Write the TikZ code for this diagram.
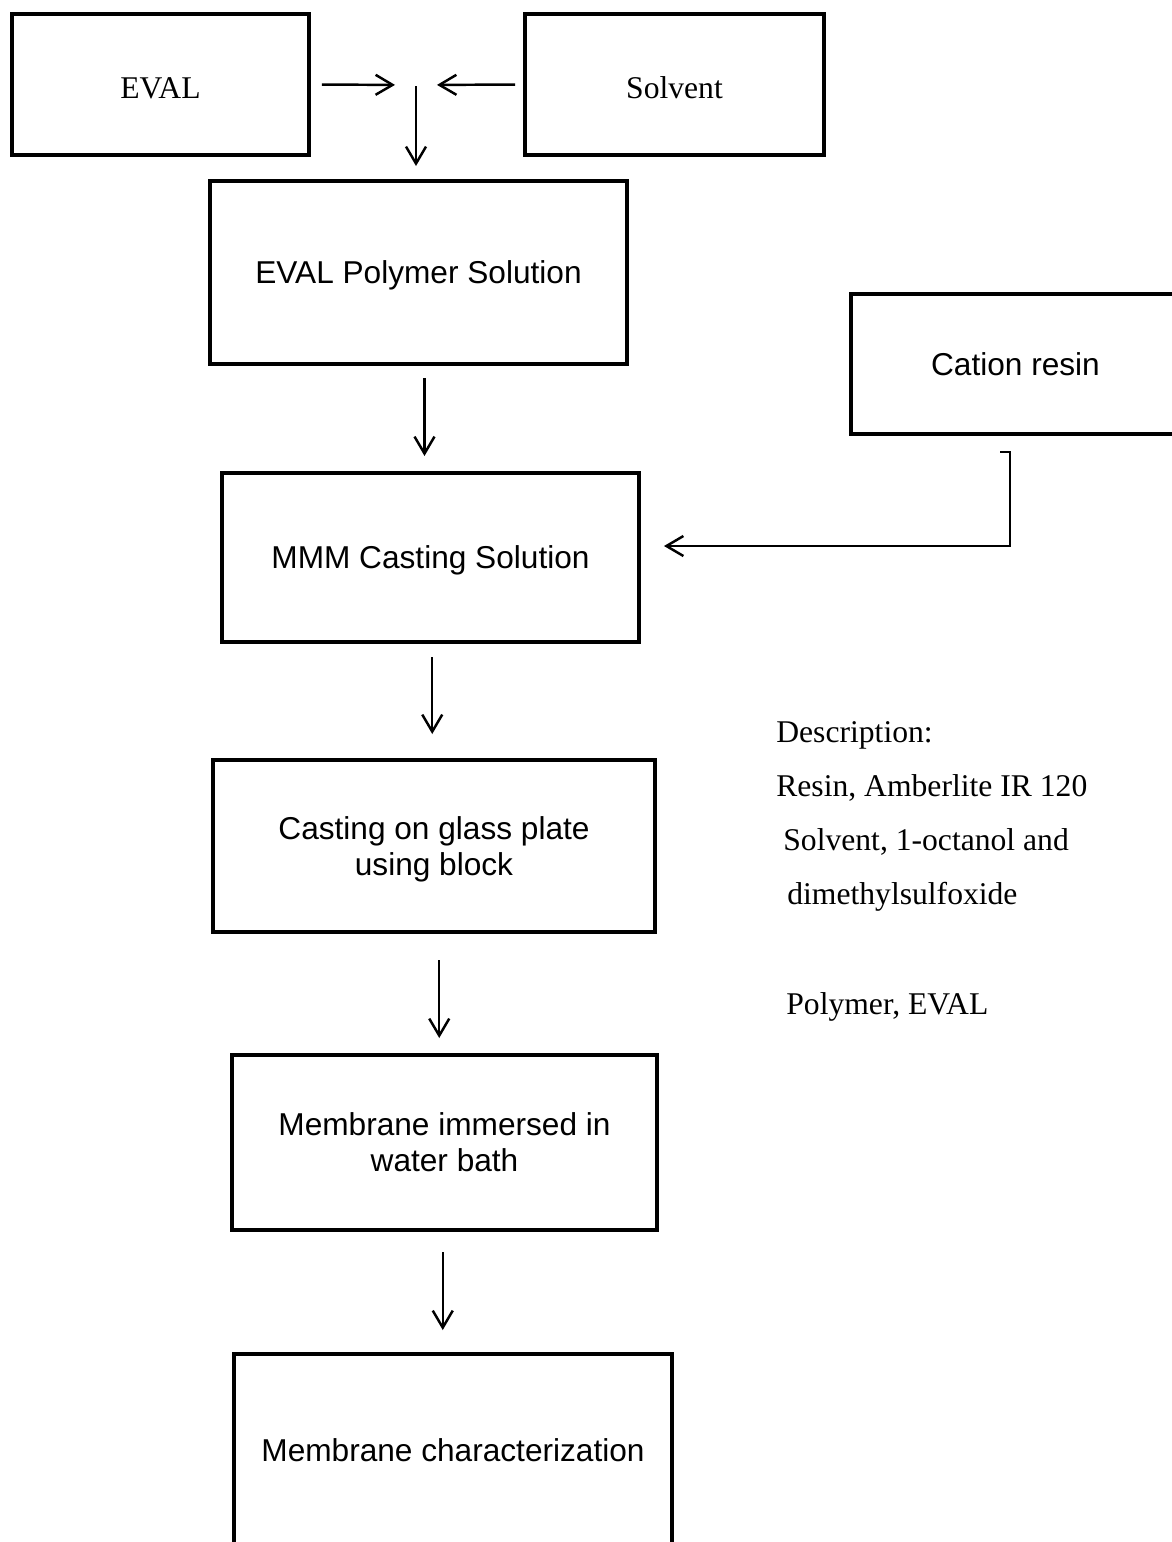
\documentclass[tikz,border=0pt]{standalone}
\usepackage{fontspec}
\setmainfont{Liberation Serif}
\newfontfamily\arialfont{Liberation Sans}
\usepackage{tikz}
\usetikzlibrary{
  arrows.meta,
  positioning,
  calc
}

\begin{document}
\begin{tikzpicture}[
            x=0.02cm, y=-0.02cm,
            stepbox/.style={draw=black, line width=2.3pt, inner sep=0pt, text depth=0pt, align=center, font=\arialfont\fontsize{18}{20.5}\selectfont},
            arr/.style={draw=black, line width=1.4pt, -{Straight Barb[length=0.34cm, width=0.4cm, line width=1.4pt]}},
            note/.style={anchor=base west, inner sep=0pt, font=\fontsize{18}{21}\selectfont}
        ]
            \useasboundingbox (0,0) rectangle (1172,1542);
            \clip (0,0) rectangle (1172,1542);
            % raw materials
            \node[stepbox, font=\fontsize{18}{21}\selectfont, text height=0.54cm, minimum width=5.94cm, minimum height=2.82cm] (eval) at (160.5,84.5) {EVAL};
            \node[stepbox, font=\fontsize{18}{21}\selectfont, text height=0.54cm, minimum width=5.98cm, minimum height=2.82cm] (solvent) at (674.5,84.5) {Solvent};
            \coordinate (mix) at (416,85);
            % process steps
            \node[stepbox, minimum width=8.34cm, minimum height=3.66cm] (poly) at (418.5,272.5) {EVAL Polymer Solution};
            \node[stepbox, minimum width=6.58cm, minimum height=2.8cm] (cation) at (1015.5,364) {Cation resin};
            \node[stepbox, minimum width=8.34cm, minimum height=3.38cm] (mmm) at (430.5,557.5) {MMM Casting Solution};
            \node[stepbox, minimum width=8.84cm, minimum height=3.44cm] (cast) at (434,846) {Casting on glass plate\\using block};
            \node[stepbox, minimum width=8.5cm, minimum height=3.5cm] (bath) at (444.5,1142.5) {Membrane immersed in\\water bath};
            \node[stepbox, minimum width=8.76cm, minimum height=3.84cm] (charac) at (453,1450) {Membrane characterization};
            % description
            \node[note] (desc) at (776,742) {Description:};
            \node[note] (resin) at (776,796) {Resin, Amberlite IR 120};
            \node[note] (solv1) at (783,850) {Solvent, 1-octanol and};
            \node[note] (solv2) at (787,904) {dimethylsulfoxide};
            \node[note] (polym) at (786,1014) {Polymer, EVAL};
            % arrows
            \draw[arr, shorten <=0.22cm, shorten >=0.42cm] (eval.east) -- (mix);
            \draw[arr, shorten <=0.16cm, shorten >=0.42cm] (solvent.west) -- (mix);
            \draw[arr, shorten <=0.02cm, shorten >=0.26cm] (mix) -- (mix |- poly.north);
            \foreach \a/\b/\s/\e/\dx in {poly/mmm/0.24/0.30/0, mmm/cast/0.26/0.48/0, cast/bath/0.52/0.30/0, bath/charac/0.40/0.44/-0.12} {
                \coordinate (mid) at ([xshift=\dx cm]$(\a.south)!0.5!(\b.north)$);
                \draw[arr, shorten <=\s cm, shorten >=\e cm] (mid |- \a.south) -- (mid |- \b.north);
            }
            \draw[arr] ([xshift=-0.31cm,yshift=-0.32cm]cation.south) -- ++(10,0) |- ([xshift=0.46cm,yshift=0.23cm]mmm.east);
        \end{tikzpicture}
\end{document}
